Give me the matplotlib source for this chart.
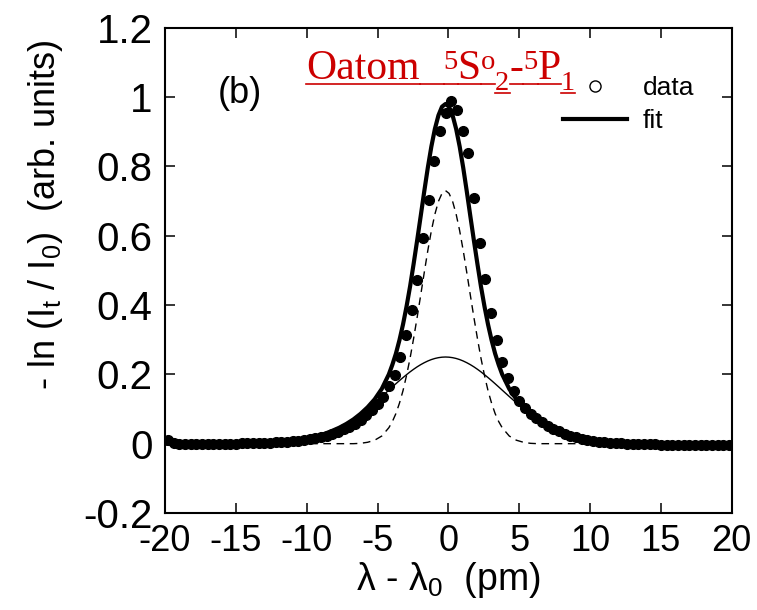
import matplotlib
matplotlib.use('Agg')
import matplotlib.pyplot as plt
from matplotlib.lines import Line2D
from matplotlib.transforms import IdentityTransform

plt.rcParams['font.family'] = ['Liberation Sans', 'DejaVu Sans']
plt.rcParams['mathtext.fontset'] = 'custom'
plt.rcParams['mathtext.rm'] = 'Liberation Sans'
plt.rcParams['mathtext.it'] = 'Liberation Sans:italic'
plt.rcParams['mathtext.bf'] = 'Liberation Sans:bold'

# ---------------- data ----------------
x_data = [-19.8, -19.4, -19.0, -18.6, -18.2, -17.8, -17.4, -17.0, -16.6, -16.2,
          -15.8, -15.4, -15.0, -14.6, -14.2, -13.8, -13.4, -13.0, -12.6, -12.2,
          -11.8, -11.4, -11.0, -10.6, -10.2, -9.8, -9.4, -9.0, -8.6, -8.2,
          -7.8, -7.4, -7.0, -6.6, -6.2, -5.8, -5.4, -5.0, -4.6, -4.2,
          -3.8, -3.4, -3.0, -2.6, -2.2, -1.8, -1.4, -1.0, -0.6, -0.2,
          0.2, 0.6, 1.0, 1.4, 1.8, 2.2, 2.6, 3.0, 3.4, 3.8,
          4.2, 4.6, 5.0, 5.4, 5.8, 6.2, 6.6, 7.0, 7.4, 7.8,
          8.2, 8.6, 9.0, 9.4, 9.8, 10.2, 10.6, 11.0, 11.4, 11.8,
          12.2, 12.6, 13.0, 13.4, 13.8, 14.2, 14.6, 15.0, 15.4, 15.8,
          16.2, 16.6, 17.0, 17.4, 17.8, 18.2, 18.6, 19.0, 19.4, 19.8]
y_data = [0.012, 0.002, 0.000, -0.001, -0.001, -0.001, -0.001, -0.001, -0.001, 0.000,
          0.000, 0.000, 0.000, 0.001, 0.001, 0.001, 0.002, 0.002, 0.003, 0.004,
          0.005, 0.006, 0.007, 0.009, 0.011, 0.013, 0.016, 0.019, 0.023, 0.028,
          0.034, 0.041, 0.049, 0.058, 0.069, 0.082, 0.097, 0.114, 0.136, 0.166,
          0.198, 0.250, 0.313, 0.385, 0.472, 0.592, 0.703, 0.815, 0.903, 0.954,
          0.989, 0.964, 0.903, 0.838, 0.708, 0.578, 0.474, 0.376, 0.299, 0.236,
          0.190, 0.152, 0.124, 0.104, 0.087, 0.073, 0.062, 0.052, 0.043, 0.036,
          0.029, 0.023, 0.018, 0.014, 0.011, 0.008, 0.006, 0.004, 0.003, 0.002,
          0.001, 0.000, -0.001, -0.001, -0.002, -0.002, -0.002, -0.003, -0.003, -0.003,
          -0.003, -0.003, -0.004, -0.004, -0.004, -0.004, -0.004, -0.004, -0.004, -0.004]

x_fit = [-20.0, -18.2, -16.2, -14.2, -13.2, -12.2, -11.2, -10.2, -9.7, -9.2,
         -8.7, -8.2, -7.7, -7.2, -6.7, -6.2, -5.7, -5.2, -4.7, -4.2,
         -3.95, -3.7, -3.45, -3.2, -2.95, -2.7, -2.45, -2.2, -1.95, -1.7,
         -1.45, -1.2, -0.95, -0.7, -0.45, -0.2, 0.05, 0.3, 0.55, 0.8,
         1.05, 1.3, 1.55, 1.8, 2.05, 2.3, 2.55, 2.8, 3.05, 3.3,
         3.55, 3.8, 4.3, 4.8, 5.3, 5.8, 6.3, 6.8, 7.3, 7.8,
         8.3, 8.8, 9.3, 9.8, 10.8, 11.8, 12.8, 13.8, 15.8, 17.8, 20.0]
fit_total = [0.000, 0.000, 0.000, 0.001, 0.002, 0.003, 0.007, 0.012, 0.017, 0.022,
             0.029, 0.037, 0.046, 0.057, 0.070, 0.086, 0.105, 0.128, 0.158, 0.200,
             0.228, 0.260, 0.299, 0.344, 0.396, 0.454, 0.519, 0.587, 0.657, 0.728,
             0.796, 0.857, 0.908, 0.947, 0.972, 0.980, 0.972, 0.947, 0.908, 0.857,
             0.796, 0.728, 0.657, 0.587, 0.519, 0.454, 0.396, 0.344, 0.299, 0.260,
             0.228, 0.200, 0.158, 0.128, 0.105, 0.086, 0.070, 0.057, 0.046, 0.037,
             0.029, 0.022, 0.017, 0.012, 0.007, 0.003, 0.002, 0.001, 0.000, 0.000, 0.000]
fit_gauss = [0.000, 0.000, 0.000, 0.000, 0.000, 0.000, 0.000, 0.000, 0.000, 0.000,
             0.000, 0.000, 0.000, 0.000, 0.000, 0.001, 0.004, 0.010, 0.022, 0.046,
             0.064, 0.087, 0.117, 0.153, 0.197, 0.247, 0.304, 0.365, 0.429, 0.494,
             0.557, 0.614, 0.662, 0.699, 0.722, 0.730, 0.722, 0.699, 0.662, 0.614,
             0.557, 0.494, 0.429, 0.365, 0.304, 0.247, 0.197, 0.153, 0.117, 0.087,
             0.064, 0.046, 0.022, 0.010, 0.004, 0.001, 0.000, 0.000, 0.000, 0.000,
             0.000, 0.000, 0.000, 0.000, 0.000, 0.000, 0.000, 0.000, 0.000, 0.000, 0.000]
fit_broad = [0.0000, 0.0000, 0.0001, 0.0007, 0.0015, 0.0033, 0.0066, 0.0124, 0.0166, 0.0219,
             0.0285, 0.0365, 0.0461, 0.0573, 0.0701, 0.0847, 0.1006, 0.1179, 0.1360, 0.1545,
             0.1638, 0.1730, 0.1820, 0.1907, 0.1991, 0.2072, 0.2147, 0.2217, 0.2280, 0.2336,
             0.2385, 0.2426, 0.2458, 0.2481, 0.2495, 0.2500, 0.2495, 0.2481, 0.2458, 0.2426,
             0.2385, 0.2336, 0.2280, 0.2217, 0.2147, 0.2072, 0.1991, 0.1907, 0.1820, 0.1730,
             0.1638, 0.1545, 0.1360, 0.1179, 0.1006, 0.0847, 0.0701, 0.0573, 0.0461, 0.0365,
             0.0285, 0.0219, 0.0166, 0.0124, 0.0066, 0.0033, 0.0015, 0.0007, 0.0001, 0.0000, 0.0000]

x_ticks = [-20, -15, -10, -5, 0, 5, 10, 15, 20]
x_ticklabels = ['-20', '-15', '-10', '-5', '0', '5', '10', '15', '20']
y_ticks = [-0.2, 0.0, 0.2, 0.4, 0.6, 0.8, 1.0, 1.2]
y_ticklabels = ['-0.2', '0', '0.2', '0.4', '0.6', '0.8', '1', '1.2']

title_pieces = [('Oatom', 'main'), ('5', 'sup'), ('S', 'main'), ('o', 'sup'),
                ('2', 'sub'), ('-', 'main'), ('5', 'sup'), ('P', 'main'), ('1', 'sub')]

# ---------------- figure ----------------
W, H = 757, 610
fig = plt.figure(figsize=(W / 100, H / 100), dpi=100)
ax = fig.add_axes([165 / W, 1 - 513 / H, (731.7 - 165) / W, (513 - 27.7) / H])

ax.plot(x_fit, fit_gauss, color='black', lw=1.0, dashes=(5.5, 4))
ax.plot(x_fit, fit_broad, color='black', lw=1.0)
ax.plot(x_data, y_data, 'o', color='black', ms=7, mec='black')
ax.plot(x_fit, fit_total, color='black', lw=3.0, solid_capstyle='butt')

ax.set_xlim(-20, 20)
ax.set_ylim(-0.2, 1.2)
ax.set_xticks(x_ticks)
ax.set_xticklabels(x_ticklabels)
ax.set_yticks(y_ticks)
ax.set_yticklabels(y_ticklabels)
ax.tick_params(direction='in', length=7.5, width=1.1, top=True, right=True, color='black')
ax.tick_params(axis='x', pad=8, labelsize=26)
ax.tick_params(axis='y', pad=9, labelsize=29)
for sp in ax.spines.values():
    sp.set_linewidth(1.5)

ax.set_xlabel(r'$\mathrm{\lambda}$ - $\mathrm{\lambda}_\mathrm{0}$  (pm)', fontsize=27, labelpad=1)
ax.set_ylabel(r'- ln (I$_\mathrm{t}$ / I$_\mathrm{0}$)  (arb. units)', fontsize=26)
ax.yaxis.set_label_coords(-0.176, 0.614)

ax.text(0.0935, 0.845, '(b)', transform=ax.transAxes, fontsize=26, va='baseline', ha='left')

handles = [Line2D([], [], ls='none', marker='o', ms=8, mfc='white', mec='black', mew=1.0),
           Line2D([], [], color='black', lw=3.0)]
ax.legend(handles, ['data', 'fit'], loc='upper left', bbox_to_anchor=(0.703, 0.900),
          frameon=False, fontsize=19, handlelength=2.42, handletextpad=0.6,
          labelspacing=0.35, borderpad=0, borderaxespad=0)

# ---------------- title with underline ----------------
red = '#cc0000'
fig.canvas.draw()
renderer = fig.canvas.get_renderer()
x = 306.0
base = H - 79.0
sizes = {'main': 30, 'sup': 20.5, 'sub': 20.5}
offs = {'main': 0.0, 'sup': 10.0, 'sub': -11.0}
for i, (s, kind) in enumerate(title_pieces):
    t = fig.text(x, base + offs[kind], s, fontsize=sizes[kind], color=red,
                 family='Liberation Serif', ha='left', va='baseline',
                 transform=IdentityTransform())
    bb = t.get_window_extent(renderer)
    uy = base - 4.5 if kind != 'sub' else base - 13.5
    fig.add_artist(Line2D([x, bb.x1], [uy, uy], color=red, lw=1.2,
                          transform=IdentityTransform()))
    x = bb.x1
    if i == 0:
        fig.add_artist(Line2D([x, x + 24], [base - 4.5, base - 4.5], color=red, lw=1.2,
                              transform=IdentityTransform()))
        x += 24

fig.savefig('out.png', dpi=100)
